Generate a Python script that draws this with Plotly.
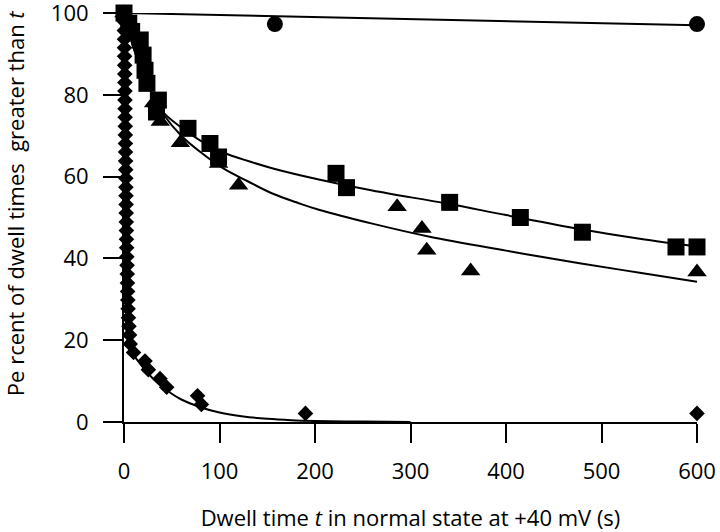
import plotly.graph_objects as go

# ---- data ----
# circles
circle_x = [158, 600]
circle_y = [97.3, 97.3]

# squares
square_x = [0, 5, 8, 17, 20, 22, 24, 34, 36, 67, 90, 99, 222, 233, 341, 415, 480, 578, 600]
square_y = [100, 97.5, 95.5, 93.4, 89.7, 86.0, 82.8, 75.8, 78.7, 71.8, 68.1, 64.8, 60.8, 57.3, 53.7, 50.0, 46.4, 42.8, 42.8]

# triangles
triangle_x = [0, 31, 38, 59, 99, 120, 286, 312, 317, 363, 600]
triangle_y = [100, 78.0, 73.5, 68.3, 63.2, 57.9, 52.6, 47.3, 42.0, 36.9, 36.7]

# diamonds
diamond_x = [0.2, 0.3, 0.4, 0.5, 0.5, 0.6, 0.7, 0.8, 0.9, 1.0, 1.0, 1.1, 1.2, 1.3, 1.4,
             1.5, 1.6, 1.7, 1.8, 1.9, 2.0, 2.1, 2.2, 2.3, 2.4, 2.5, 2.6, 2.8, 3.0, 3.2,
             3.4, 3.6, 3.8, 4.0, 4.3, 4.7, 5.2, 5.8, 6.5,
             10, 22, 25.5, 37.7, 44.7, 77, 81, 190, 600]
diamond_y = [100, 97.9, 95.7, 93.6, 91.5, 89.4, 87.2, 85.1, 83.0, 80.9, 78.7, 76.6, 74.5, 72.3, 70.2,
             68.1, 66.0, 63.8, 61.7, 59.6, 57.4, 55.3, 53.2, 51.1, 48.9, 46.8, 44.7, 42.6, 40.4, 38.3,
             36.2, 34.0, 31.9, 29.8, 27.7, 25.5, 23.4, 21.3, 19.1,
             17.0, 14.9, 12.8, 10.6, 8.5, 6.4, 4.3, 2.1, 2.1]

# fitted curves
fit_circle_x = [0, 600]
fit_circle_y = [100, 97]

fit_square_x = [0, 5, 10, 20, 30, 42, 60, 80, 104, 130, 156, 204, 260, 338, 400, 477, 540, 600]
fit_square_y = [100, 95.5, 91.5, 85, 80, 75.5, 72, 68.8, 65.9, 63.8, 62, 59.3, 56.6, 53.4, 50.6, 47.2, 44.8, 42.9]

fit_triangle_x = [0, 5, 10, 20, 30, 42, 60, 80, 104, 130, 156, 183, 204, 260, 320, 400, 477, 540, 600]
fit_triangle_y = [100, 95.5, 91.5, 85, 80, 75, 70, 66, 62, 58.8, 55.8, 53.5, 51.9, 48.5, 45.3, 41.9, 38.8, 36.5, 34.3]

fit_diamond_x = [0, 0.5, 1, 2, 3, 5, 7, 10, 15, 20, 30, 40, 50, 60, 80, 100, 125, 150, 175, 200, 250, 300]
fit_diamond_y = [100, 77, 61, 40.6, 30, 21.2, 19.3, 16.5, 14.8, 13.3, 10.7, 8.6, 6.9, 5.5, 3.6, 2.3, 1.35, 0.79, 0.45, 0.26, 0.1, 0.03]

x_ticks = [0, 100, 200, 300, 400, 500, 600]
y_ticks = [0, 20, 40, 60, 80, 100]

x_title = "Dwell time <i>t</i> in normal state at +40 mV (s)"
y_title = "Pe rcent of dwell times  greater than <i>t</i>"

FONT = "Open Sans"
BLACK = "#000000"

fig = go.Figure()

line_style = dict(color=BLACK, width=2)
for fx, fy, shp in [(fit_circle_x, fit_circle_y, "linear"),
                    (fit_square_x, fit_square_y, "spline"),
                    (fit_triangle_x, fit_triangle_y, "spline"),
                    (fit_diamond_x, fit_diamond_y, "spline")]:
    fig.add_trace(go.Scatter(x=fx, y=fy, mode="lines", line=dict(**line_style, shape=shp),
                             hoverinfo="skip", showlegend=False))

fig.add_trace(go.Scatter(x=diamond_x, y=diamond_y, mode="markers", cliponaxis=False,
                         marker=dict(symbol="diamond", size=12, color=BLACK), showlegend=False))
fig.add_trace(go.Scatter(x=triangle_x, y=triangle_y, mode="markers", cliponaxis=False,
                         marker=dict(symbol="triangle-up", size=17, color=BLACK), showlegend=False))
fig.add_trace(go.Scatter(x=square_x, y=square_y, mode="markers", cliponaxis=False,
                         marker=dict(symbol="square", size=17, color=BLACK), showlegend=False))
fig.add_trace(go.Scatter(x=circle_x, y=circle_y, mode="markers", cliponaxis=False,
                         marker=dict(symbol="circle", size=16, color=BLACK), showlegend=False))

fig.update_layout(
    width=720, height=532,
    margin=dict(l=124, r=23, t=13, b=110),
    paper_bgcolor="white", plot_bgcolor="white",
    font=dict(family=FONT, size=22, color=BLACK),
    xaxis=dict(range=[0, 600], tickvals=x_ticks, ticktext=[str(v) for v in x_ticks],
               showline=True, linecolor=BLACK, linewidth=2, ticks="outside", ticklen=19,
               tickwidth=2, tickcolor=BLACK, showgrid=False, zeroline=False,
               ticklabelstandoff=10, automargin=False, ticklabeloverflow="allow",
               title=dict(text=x_title, standoff=38, font=dict(size=22))),
    yaxis=dict(range=[0, 100], tickvals=y_ticks, ticktext=[str(v) for v in y_ticks],
               showline=True, linecolor=BLACK, linewidth=2, ticks="outside", ticklen=19,
               tickwidth=2, tickcolor=BLACK, showgrid=False, zeroline=False,
               ticklabelstandoff=10, automargin=False, ticklabeloverflow="allow"),
    annotations=[dict(text=y_title, textangle=-90, showarrow=False,
                      xref="paper", yref="paper", x=-0.19, y=0.533,
                      xanchor="center", yanchor="middle", font=dict(size=22))],
)

# remove the page's default body margin so the figure sits at the window's corner
fig.write_html("out.html",
               config={"displayModeBar": False},
               post_script="document.body.style.margin='0px'; document.body.style.overflow='hidden';")
